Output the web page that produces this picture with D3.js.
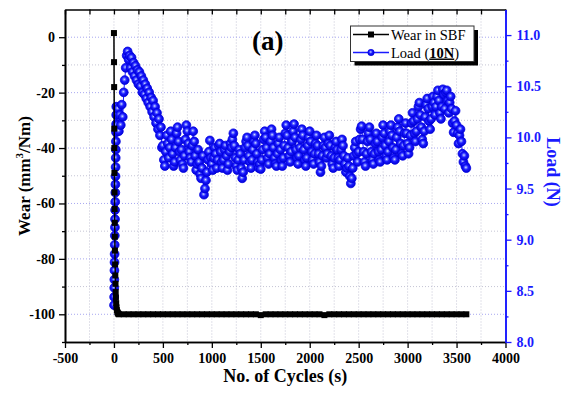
<!DOCTYPE html>
<html><head><meta charset="utf-8">
<script src="https://cdn.jsdelivr.net/npm/d3@7/dist/d3.min.js"></script>
<style>body{margin:0;background:#fff}svg{display:block}</style>
</head><body>
<svg id="c" width="567" height="394"></svg>
<script>
// ---------- data ----------
const xTicks = [-500,0,500,1000,1500,2000,2500,3000,3500,4000];
const xMinor = [-250,250,750,1250,1750,2250,2750,3250,3750];
const wearTicks = [-100,-80,-60,-40,-20,0];
const wearMinor = [-110,-90,-70,-50,-30,-10];
const loadTicks = [8.0,8.5,9.0,9.5,10.0,10.5,11.0];
const loadMinor = [8.25,8.75,9.25,9.75,10.25,10.75];

const wearCycles = [0,1,2,3,4,5,6,7,8,9,10,12,14,16,18,20,23,26,30,35,40,45,50,
  100,150,200,250,300,350,400,450,500,550,600,650,700,750,800,850,900,950,1000,
  1050,1100,1150,1200,1250,1300,1350,1400,1450,1500,1550,1600,1650,1700,1750,1800,
  1850,1900,1950,2000,2050,2100,2150,2200,2250,2300,2350,2400,2450,2500,2550,2600,
  2650,2700,2750,2800,2850,2900,2950,3000,3050,3100,3150,3200,3250,3300,3350,3400,
  3450,3500,3550,3600];
const wearValues = [1.5,-9,-18,-33,-40,-49,-56,-62,-67,-72,-77,-82,-86,-89,-92,-94,-96,-97.5,-98.5,-99.2,-99.6,-99.8,-100,
  -100,-100,-100,-100,-100,-100,-100,-100,-100,-100,-100,-100,-100,-100,-100,-100,-100,-100,-100,
  -100,-100,-100,-100,-100,-100,-100,-100,-100,-100.3,-100,-100,-100,-100,-100,-100,
  -100,-100,-100,-100,-100,-100,-100.3,-100,-100,-100,-100,-100,-100,-100,-100,-100,
  -100,-100,-100,-100,-100,-100,-100,-100,-100,-100,-100,-100,-100,-100,-100,-100,
  -100,-100,-100,-100];

const loadCycles = [1,2,3,4,5,6,7,8,9,10,11,12,13,14,15,16,17,18,19,20,21,22,23,24,
  30,40,50,60,70,80,90,100,110,120,130,140,150,160,170,180,190,200,210,220,230,240,
  250,260,270,280,290,300,310,320,330,340,350,360,370,380,390,400,410,420,430,440,
  450,460,470,480,490,
  500,510,520,530,540,550,560,570,580,590,600,610,620,630,640,650,660,670,680,690,
  700,710,720,730,740,750,760,770,780,790,800,810,820,830,840,850,860,870,880,890,
  900,910,920,930,940,950,960,970,980,990,1000,1010,1020,1030,1040,1050,1060,1070,1080,1090,
  1100,1110,1120,1130,1140,1150,1160,1170,1180,1190,1200,1210,1220,1230,1240,1250,1260,1270,1280,1290,
  1300,1310,1320,1330,1340,1350,1360,1370,1380,1390,1400,1410,1420,1430,1440,1450,1460,1470,1480,1490,
  1500,1510,1520,1530,1540,1550,1560,1570,1580,1590,1600,1610,1620,1630,1640,1650,1660,1670,1680,1690,
  1700,1710,1720,1730,1740,1750,1760,1770,1780,1790,1800,1810,1820,1830,1840,1850,1860,1870,1880,1890,
  1900,1910,1920,1930,1940,1950,1960,1970,1980,1990,2000,2010,2020,2030,2040,2050,2060,2070,2080,2090,
  2100,2110,2120,2130,2140,2150,2160,2170,2180,2190,2200,2210,2220,2230,2240,2250,2260,2270,2280,2290,
  2300,2310,2320,2330,2340,2350,2360,2370,2380,2390,2400,2410,2420,2430,2440,2450,2460,2470,2480,2490,
  2500,2510,2520,2530,2540,2550,2560,2570,2580,2590,2600,2610,2620,2630,2640,2650,2660,2670,2680,2690,
  2700,2710,2720,2730,2740,2750,2760,2770,2780,2790,2800,2810,2820,2830,2840,2850,2860,2870,2880,2890,
  2900,2910,2920,2930,2940,2950,2960,2970,2980,2990,3000,3010,3020,3030,3040,3050,3060,3070,3080,3090,
  3100,3110,3120,3130,3140,3150,3160,3170,3180,3190,3200,3210,3220,3230,3240,3250,3260,3270,3280,3290,
  3300,3310,3320,3330,3340,3350,3360,3370,3380,3390,3400,3410,3420,3430,3440,3450,3460,3470,3480,3490,
  3500,3510,3520,3530,3540,3550,3560,3570,3580,3590,3600];
const loadValues = [8.36,8.44,8.53,8.61,8.70,8.78,8.86,8.95,9.04,9.12,9.20,9.29,9.37,9.46,9.54,9.62,9.71,9.80,9.88,9.96,10.05,10.13,10.22,10.30,
  10.12,10.28,10.06,10.22,10.12,10.32,10.20,10.44,10.56,10.68,10.80,10.84,10.76,10.80,10.68,10.78,10.64,10.73,10.60,10.70,10.56,10.66,
  10.52,10.64,10.50,10.60,10.44,10.56,10.42,10.52,10.38,10.48,10.34,10.44,10.30,10.39,10.25,10.36,10.20,10.30,10.14,10.24,
  10.08,10.18,10.02,10.10,9.90,
  9.92,9.78,9.72,9.86,10.02,9.94,9.80,9.90,10.06,9.98, 9.84,9.72,9.76,9.90,10.04,10.10,9.96,9.86,9.78,9.88,
  9.74,9.70,9.82,9.98,10.12,10.06,9.94,9.86,9.80,9.76, 9.92,10.06,9.96,9.82,9.68,9.74,9.88,9.76,9.64,9.60,
  9.70,9.82,9.44,9.50,9.58,9.66,9.78,9.86,9.97,9.80, 9.74,9.68,9.80,9.90,9.84,9.70,9.78,9.92,9.94,9.86,
  9.76,9.70,9.78,9.88,9.92,9.82,9.68,9.74,9.86,9.94, 9.90,9.98,10.04,9.92,9.80,9.72,9.68,9.78,9.88,9.84,
  9.70,9.60,9.66,9.78,9.90,9.96,10.00,9.92,9.82,9.76, 9.70,9.78,9.88,9.96,10.02,9.94,9.84,9.76,9.70,9.74,
  9.69,9.78,9.88,9.98,10.06,10.00,9.90,9.80,9.74,9.84, 9.96,10.08,10.02,9.90,9.80,9.74,9.72,9.84,9.94,10.00,
  9.88,9.78,9.72,9.80,9.92,10.04,10.12,10.02,9.90,9.82, 9.76,9.86,9.96,10.06,10.13,10.00,9.88,9.80,9.74,9.82,
  9.90,9.98,10.08,10.02,9.88,9.78,9.72,9.80,9.92,10.00, 10.06,9.96,9.86,9.78,9.74,9.84,9.94,10.02,9.92,9.84,
  9.76,9.66,9.72,9.82,9.92,10.00,9.90,9.80,9.84,9.94, 10.02,9.92,9.82,9.74,9.70,9.80,9.90,9.96,9.88,9.80,
  9.72,9.78,9.88,9.98,9.92,9.82,9.74,9.66,9.70,9.80, 9.72,9.62,9.55,9.60,9.70,9.82,9.90,9.96,9.84,9.76,
  9.86,9.98,10.08,10.11,9.98,9.86,9.76,9.72,9.84,9.96, 10.04,10.10,9.98,9.86,9.78,9.74,9.84,9.94,10.04,9.96,
  9.86,9.78,9.76,9.88,10.00,10.12,10.04,9.92,9.82,9.78, 9.86,9.96,10.06,10.12,10.02,9.90,9.80,9.78,9.88,10.00,
  10.10,10.18,10.06,9.94,9.84,9.82,9.92,10.04,10.14,10.04, 9.94,9.84,9.90,10.02,10.14,10.24,10.16,10.04,9.96,10.06,
  10.18,10.30,10.34,10.22,10.10,9.98,9.94,10.06,10.20,10.32, 10.38,10.28,10.16,10.08,10.18,10.30,10.40,10.34,10.22,10.30,
  10.40,10.46,10.36,10.24,10.18,10.30,10.47,10.42,10.28,10.44, 10.46,10.36,10.24,10.34,10.40,10.28,10.14,10.05,10.16,10.26,
  10.12,10.04,9.94,10.02,10.08,9.96,9.84,9.76,9.82,9.72,9.70];

// ---------- chart ----------
const svg = d3.select('#c');
const L = 65, R = 505.5, T = 9.5, B = 342;
const BLUE = '#1a1aff';
const FONT = '"Liberation Serif","Times New Roman",serif';

const x = d3.scaleLinear().domain([-500,4000]).range([L,R]);
const yL = d3.scaleLinear().domain([-110,10]).range([B,T]);
const yR = d3.scaleLinear().domain([8,11.25]).range([B,T]);

const defs = svg.append('defs');
const g = defs.append('radialGradient').attr('id','ball').attr('cx','45%').attr('cy','42%').attr('r','60%');
g.append('stop').attr('offset','0%').attr('stop-color','#e6ecff');
g.append('stop').attr('offset','16%').attr('stop-color','#7f8dff');
g.append('stop').attr('offset','45%').attr('stop-color','#1a1aff');
g.append('stop').attr('offset','100%').attr('stop-color','#0000d0');
defs.append('clipPath').attr('id','clip').append('rect').attr('x',L).attr('y',T).attr('width',R-L).attr('height',B-T);

// grid
const grid = svg.append('g');
xTicks.concat(xMinor).filter(d => d > -500 && d < 4000).forEach(d => {
  grid.append('line').attr('x1',x(d)).attr('x2',x(d)).attr('y1',T).attr('y2',B)
    .attr('stroke','#c4c4d4').attr('stroke-width',1).attr('stroke-dasharray','1,2');
});
wearTicks.concat(wearMinor).filter(d => d > -110 && d < 10).forEach(d => {
  const major = wearTicks.includes(d);
  grid.append('line').attr('x1',L).attr('x2',R).attr('y1',yL(d)).attr('y2',yL(d))
    .attr('stroke', major ? '#a8a8f0' : '#c4c4d4').attr('stroke-width',1).attr('stroke-dasharray','1,2');
});

// load series
const plot = svg.append('g').attr('clip-path','url(#clip)');
const loadData = loadCycles.map((c,i) => [c, loadValues[i]]);
plot.append('path').datum(loadData)
  .attr('d', d3.line().x(d => x(d[0])).y(d => yR(d[1])))
  .attr('fill','none').attr('stroke',BLUE).attr('stroke-width',1);
plot.append('g').selectAll('circle').data(loadData).join('circle')
  .attr('cx', d => x(d[0])).attr('cy', d => yR(d[1])).attr('r',4.4)
  .attr('fill','url(#ball)').attr('stroke','#0000e0').attr('stroke-width',0.8);

// wear series
const wearData = wearCycles.map((c,i) => [c, wearValues[i]]);
plot.append('path').datum(wearData)
  .attr('d', d3.line().x(d => x(d[0])).y(d => yL(d[1])))
  .attr('fill','none').attr('stroke','#000').attr('stroke-width',1.5);
plot.append('g').selectAll('rect').data(wearData).join('rect')
  .attr('x', d => x(d[0]) - 3).attr('y', d => yL(d[1]) - 3).attr('width',6).attr('height',6)
  .attr('fill','#000');

// axes
function styleAxis(sel, color) {
  sel.selectAll('path').attr('stroke',color).attr('stroke-width',1.6);
  sel.selectAll('line').attr('stroke',color).attr('stroke-width',1.3);
  sel.selectAll('text').attr('fill',color).attr('font-family',FONT).attr('font-weight','bold').attr('font-size','14px');
}
const fmt = d => String(d);
const ax = svg.append('g').attr('transform',`translate(0,${B})`)
  .call(d3.axisBottom(x).tickValues(xTicks).tickFormat(fmt).tickSize(6).tickPadding(5).tickSizeOuter(0));
styleAxis(ax,'#000');
const axm = svg.append('g').attr('transform',`translate(0,${B})`)
  .call(d3.axisBottom(x).tickValues(xMinor).tickFormat('').tickSize(3).tickSizeOuter(0));
styleAxis(axm,'#000');
const axt = svg.append('g').attr('transform',`translate(0,${T})`)
  .call(d3.axisBottom(x).tickValues(xTicks.concat(xMinor)).tickFormat('').tickSize(5).tickSizeOuter(0));
styleAxis(axt,'#000');

const ay = svg.append('g').attr('transform',`translate(${L},0)`)
  .call(d3.axisLeft(yL).tickValues(wearTicks).tickFormat(fmt).tickSize(6).tickPadding(4).tickSizeOuter(0));
styleAxis(ay,'#000');
const aym = svg.append('g').attr('transform',`translate(${L},0)`)
  .call(d3.axisLeft(yL).tickValues(wearMinor).tickFormat('').tickSize(3).tickSizeOuter(0));
styleAxis(aym,'#000');

const ar = svg.append('g').attr('transform',`translate(${R},0)`)
  .call(d3.axisRight(yR).tickValues(loadTicks).tickFormat(d => d.toFixed(1)).tickSize(6).tickPadding(5).tickSizeOuter(0));
styleAxis(ar,BLUE);
const arm = svg.append('g').attr('transform',`translate(${R},0)`)
  .call(d3.axisRight(yR).tickValues(loadMinor).tickFormat('').tickSize(3).tickSizeOuter(0));
styleAxis(arm,BLUE);

// axis titles
svg.append('text').attr('x',(L+R)/2).attr('y',382).attr('text-anchor','middle')
  .attr('font-family',FONT).attr('font-weight','bold').attr('font-size','18px').text('No. of Cycles (s)');
const yt = svg.append('text').attr('transform',`translate(30,176) rotate(-90)`).attr('text-anchor','middle')
  .attr('font-family',FONT).attr('font-weight','bold').attr('font-size','17px');
yt.append('tspan').text('Wear (mm');
yt.append('tspan').attr('font-size','11px').attr('dy',-7).text('3');
yt.append('tspan').attr('dy',7).text('/Nm)');
svg.append('text').attr('transform',`translate(547,172) rotate(90)`).attr('text-anchor','middle')
  .attr('font-family',FONT).attr('font-weight','bold').attr('font-size','18px').attr('fill',BLUE).text('Load (N)');

// panel label
svg.append('text').attr('x',252).attr('y',50).attr('font-family',FONT).attr('font-weight','bold')
  .attr('font-size','27px').text('(a)');

// legend
const lg = svg.append('g');
lg.append('rect').attr('x',354.5).attr('y',30).attr('width',123.5).attr('height',35.5).attr('fill','#000');
lg.append('rect').attr('x',350.5).attr('y',26).attr('width',123.5).attr('height',35.5)
  .attr('fill','#fff').attr('stroke','#333').attr('stroke-width',1);
lg.append('line').attr('x1',353).attr('x2',389).attr('y1',34.5).attr('y2',34.5).attr('stroke','#000').attr('stroke-width',1.6);
lg.append('rect').attr('x',368).attr('y',31.5).attr('width',6).attr('height',6).attr('fill','#000');
lg.append('line').attr('x1',353).attr('x2',389).attr('y1',52.5).attr('y2',52.5).attr('stroke',BLUE).attr('stroke-width',1.6);
lg.append('circle').attr('cx',371).attr('cy',52.5).attr('r',3.2).attr('fill','url(#ball)').attr('stroke','#0000e0').attr('stroke-width',0.6);
lg.append('text').attr('x',391).attr('y',39.5).attr('font-family',FONT).attr('font-size','14.5px').text('Wear in SBF');
const lt = lg.append('text').attr('x',391).attr('y',57.5).attr('font-family',FONT).attr('font-size','14.5px');
lt.append('tspan').text('Load (');
lt.append('tspan').attr('font-weight','bold').attr('text-decoration','underline').text('10N');
lt.append('tspan').text(')');
</script>
</body></html>
